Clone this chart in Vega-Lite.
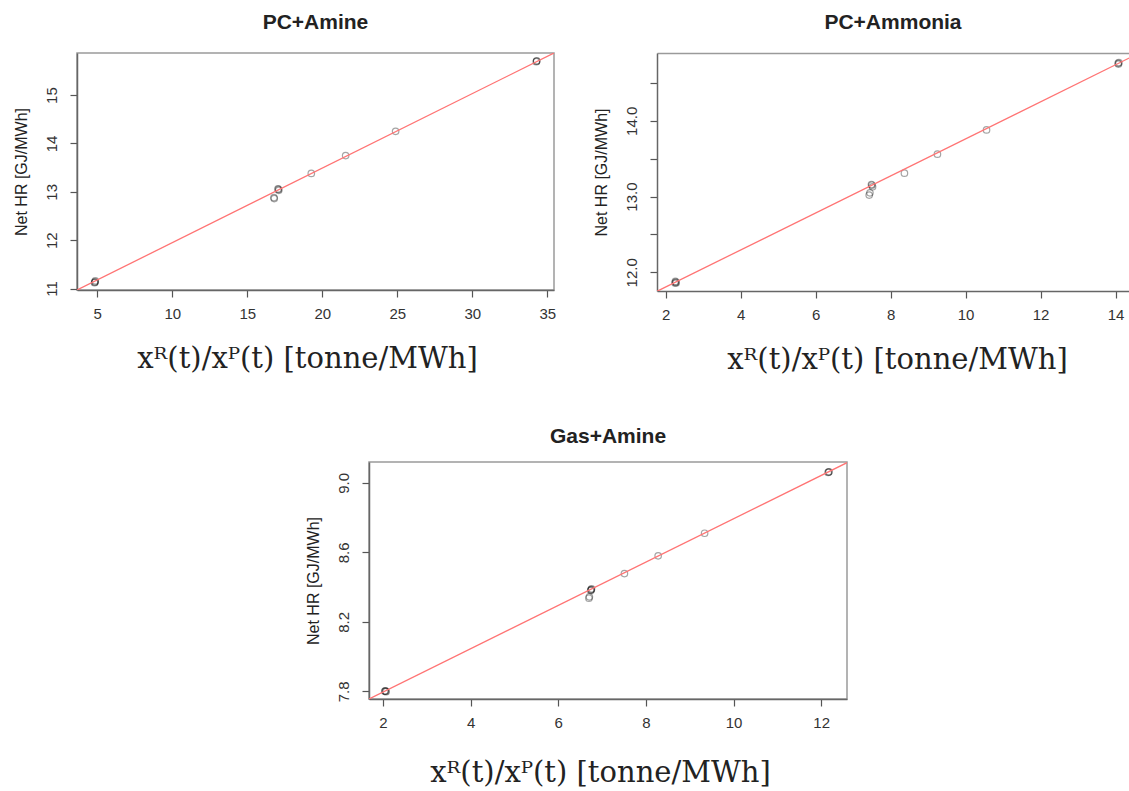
{
  "$schema": "https://vega.github.io/schema/vega-lite/v6.json",
  "background": "white",
  "padding": {"left": 12, "top": 11, "right": 0, "bottom": 0},
  "datasets": {
    "amine": [
      {"x": 4.82, "y": 11.12}, {"x": 4.85, "y": 11.14}, {"x": 4.87, "y": 11.16}, {"x": 4.84, "y": 11.13},
      {"x": 16.8, "y": 12.86}, {"x": 16.78, "y": 12.88},
      {"x": 17.05, "y": 13.06}, {"x": 17.1, "y": 13.03}, {"x": 17.08, "y": 13.05},
      {"x": 19.27, "y": 13.38}, {"x": 21.56, "y": 13.75}, {"x": 24.89, "y": 14.25},
      {"x": 34.27, "y": 15.69}, {"x": 34.3, "y": 15.71}, {"x": 34.29, "y": 15.7}
    ],
    "ammonia": [
      {"x": 2.25, "y": 11.86}, {"x": 2.27, "y": 11.87}, {"x": 2.26, "y": 11.88}, {"x": 2.28, "y": 11.86},
      {"x": 7.43, "y": 13.02}, {"x": 7.45, "y": 13.05},
      {"x": 7.49, "y": 13.16}, {"x": 7.52, "y": 13.13}, {"x": 7.5, "y": 13.15},
      {"x": 8.37, "y": 13.31}, {"x": 9.25, "y": 13.56}, {"x": 10.56, "y": 13.88},
      {"x": 14.07, "y": 14.76}, {"x": 14.09, "y": 14.77}, {"x": 14.08, "y": 14.75}
    ],
    "gas": [
      {"x": 2.04, "y": 7.8}, {"x": 2.06, "y": 7.801}, {"x": 2.05, "y": 7.803}, {"x": 2.07, "y": 7.798},
      {"x": 6.7, "y": 8.336}, {"x": 6.71, "y": 8.344},
      {"x": 6.75, "y": 8.384}, {"x": 6.76, "y": 8.39}, {"x": 6.74, "y": 8.38}, {"x": 6.75, "y": 8.386},
      {"x": 7.51, "y": 8.478}, {"x": 8.28, "y": 8.58}, {"x": 9.34, "y": 8.71},
      {"x": 12.16, "y": 9.06}, {"x": 12.18, "y": 9.064}, {"x": 12.17, "y": 9.062}
    ],
    "fit": [
      {"panel": "amine", "x": 3.65, "y": 10.97}, {"panel": "amine", "x": 35.45, "y": 15.87},
      {"panel": "ammonia", "x": 1.77, "y": 11.75}, {"panel": "ammonia", "x": 14.6, "y": 14.887},
      {"panel": "gas", "x": 1.68, "y": 7.756}, {"panel": "gas", "x": 12.59, "y": 9.116}
    ]
  },
  "vconcat": [
    {
      "hconcat": [
        {
          "width": 477, "height": 237,
          "title": "PC+Amine",
          "layer": [
            {
              "data": {"name": "amine"},
              "mark": {"type": "point", "shape": "circle", "filled": false, "stroke": "#000", "strokeOpacity": 0.5, "strokeWidth": 1.2, "size": 42, "clip": true},
              "encoding": {
                "x": {"field": "x", "type": "quantitative", "scale": {"domain": [3.65, 35.45], "nice": false, "zero": false}, "axis": {"values": [5, 10, 15, 20, 25, 30, 35], "title": "xᴿ(t)/xᴾ(t) [tonne/MWh]", "titleX": 230, "titlePadding": 23}},
                "y": {"field": "y", "type": "quantitative", "scale": {"domain": [10.97, 15.87], "nice": false, "zero": false}, "axis": {"values": [11, 12, 13, 14, 15], "title": "Net HR [GJ/MWh]"}}
              }
            },
            {
              "data": {"name": "fit"},
              "transform": [{"filter": "datum.panel == 'amine'"}],
              "mark": {"type": "line", "color": "#ff7474", "strokeWidth": 1.3, "clip": true},
              "encoding": {
                "x": {"field": "x", "type": "quantitative"},
                "y": {"field": "y", "type": "quantitative"}
              }
            }
          ]
        },
        {
          "width": 472, "height": 238,
          "title": "PC+Ammonia",
          "view": {"stroke": null},
          "layer": [
            {
              "data": {"name": "ammonia"},
              "mark": {"type": "point", "shape": "circle", "filled": false, "stroke": "#000", "strokeOpacity": 0.5, "strokeWidth": 1.2, "size": 42, "clip": true},
              "encoding": {
                "x": {"field": "x", "type": "quantitative", "scale": {"domain": [1.77, 14.36], "nice": false, "zero": false}, "axis": {"values": [2, 4, 6, 8, 10, 12, 14], "title": "xᴿ(t)/xᴾ(t) [tonne/MWh]", "titleX": 240, "titlePadding": 23}},
                "y": {"field": "y", "type": "quantitative", "scale": {"domain": [11.754, 14.896], "nice": false, "zero": false}, "axis": {"values": [12, 12.5, 13, 13.5, 14, 14.5], "labelExpr": "datum.value % 1 == 0 ? format(datum.value, '.1f') : ''", "title": "Net HR [GJ/MWh]"}}
              }
            },
            {
              "data": {"name": "fit"},
              "transform": [{"filter": "datum.panel == 'ammonia'"}],
              "mark": {"type": "line", "color": "#ff7474", "strokeWidth": 1.3, "clip": true},
              "encoding": {
                "x": {"field": "x", "type": "quantitative", "scale": {"domain": [1.77, 14.36], "nice": false, "zero": false}, "axis": {"orient": "top", "labels": false, "ticks": false, "title": null, "domainColor": "#9a9a9a", "domainWidth": 1.5}},
                "y": {"field": "y", "type": "quantitative"}
              }
            }
          ],
          "resolve": {"axis": {"x": "independent"}}
        }
      ],
      "spacing": 103,
      "bounds": "flush"
    },
    {
      "hconcat": [
        {
          "width": 272, "height": 10,
          "data": {"values": [{"a": 1}]},
          "view": {"stroke": null},
          "mark": {"type": "point", "opacity": 0},
          "encoding": {}
        },
        {
          "width": 478, "height": 237,
          "title": {"text": "Gas+Amine", "offset": 15},
          "layer": [
            {
              "data": {"name": "gas"},
              "mark": {"type": "point", "shape": "circle", "filled": false, "stroke": "#000", "strokeOpacity": 0.5, "strokeWidth": 1.2, "size": 42, "clip": true},
              "encoding": {
                "x": {"field": "x", "type": "quantitative", "scale": {"domain": [1.68, 12.59], "nice": false, "zero": false}, "axis": {"values": [2, 4, 6, 8, 10, 12], "title": "xᴿ(t)/xᴾ(t) [tonne/MWh]", "titleX": 231, "titlePadding": 28}},
                "y": {"field": "y", "type": "quantitative", "scale": {"domain": [7.756, 9.12], "nice": false, "zero": false}, "axis": {"values": [7.8, 8.0, 8.2, 8.4, 8.6, 8.8, 9.0], "labelExpr": "round(datum.value * 10) % 4 == 2 ? format(datum.value, '.1f') : ''", "title": "Net HR [GJ/MWh]"}}
              }
            },
            {
              "data": {"name": "fit"},
              "transform": [{"filter": "datum.panel == 'gas'"}],
              "mark": {"type": "line", "color": "#ff7474", "strokeWidth": 1.3, "clip": true},
              "encoding": {
                "x": {"field": "x", "type": "quantitative"},
                "y": {"field": "y", "type": "quantitative"}
              }
            }
          ]
        }
      ],
      "spacing": 20,
      "bounds": "flush"
    }
  ],
  "spacing": 409,
  "bounds": "flush",
  "config": {
    "view": {"stroke": "#9a9a9a", "strokeWidth": 1.5},
    "axis": {
      "grid": false,
      "labelFont": "Liberation Sans", "labelFontSize": 15, "labelColor": "#333",
      "tickColor": "#555", "tickSize": 7, "tickWidth": 1.2,
      "domainColor": "#666", "domainWidth": 1.5,
      "labelOverlap": false, "labelFlush": false,
      "titleColor": "#222", "titleFontWeight": "normal"
    },
    "axisX": {"labelPadding": 9, "titleFont": "DejaVu Serif", "titleFontSize": 29, "titlePadding": 23},
    "axisY": {"labelAngle": -90, "labelAlign": "center", "labelBaseline": "bottom", "labelPadding": 11, "titleFont": "Liberation Sans", "titleFontSize": 16, "titlePadding": 15},
    "title": {"font": "Liberation Sans", "fontSize": 21, "fontWeight": "bold", "color": "#222", "offset": 20}
  }
}
